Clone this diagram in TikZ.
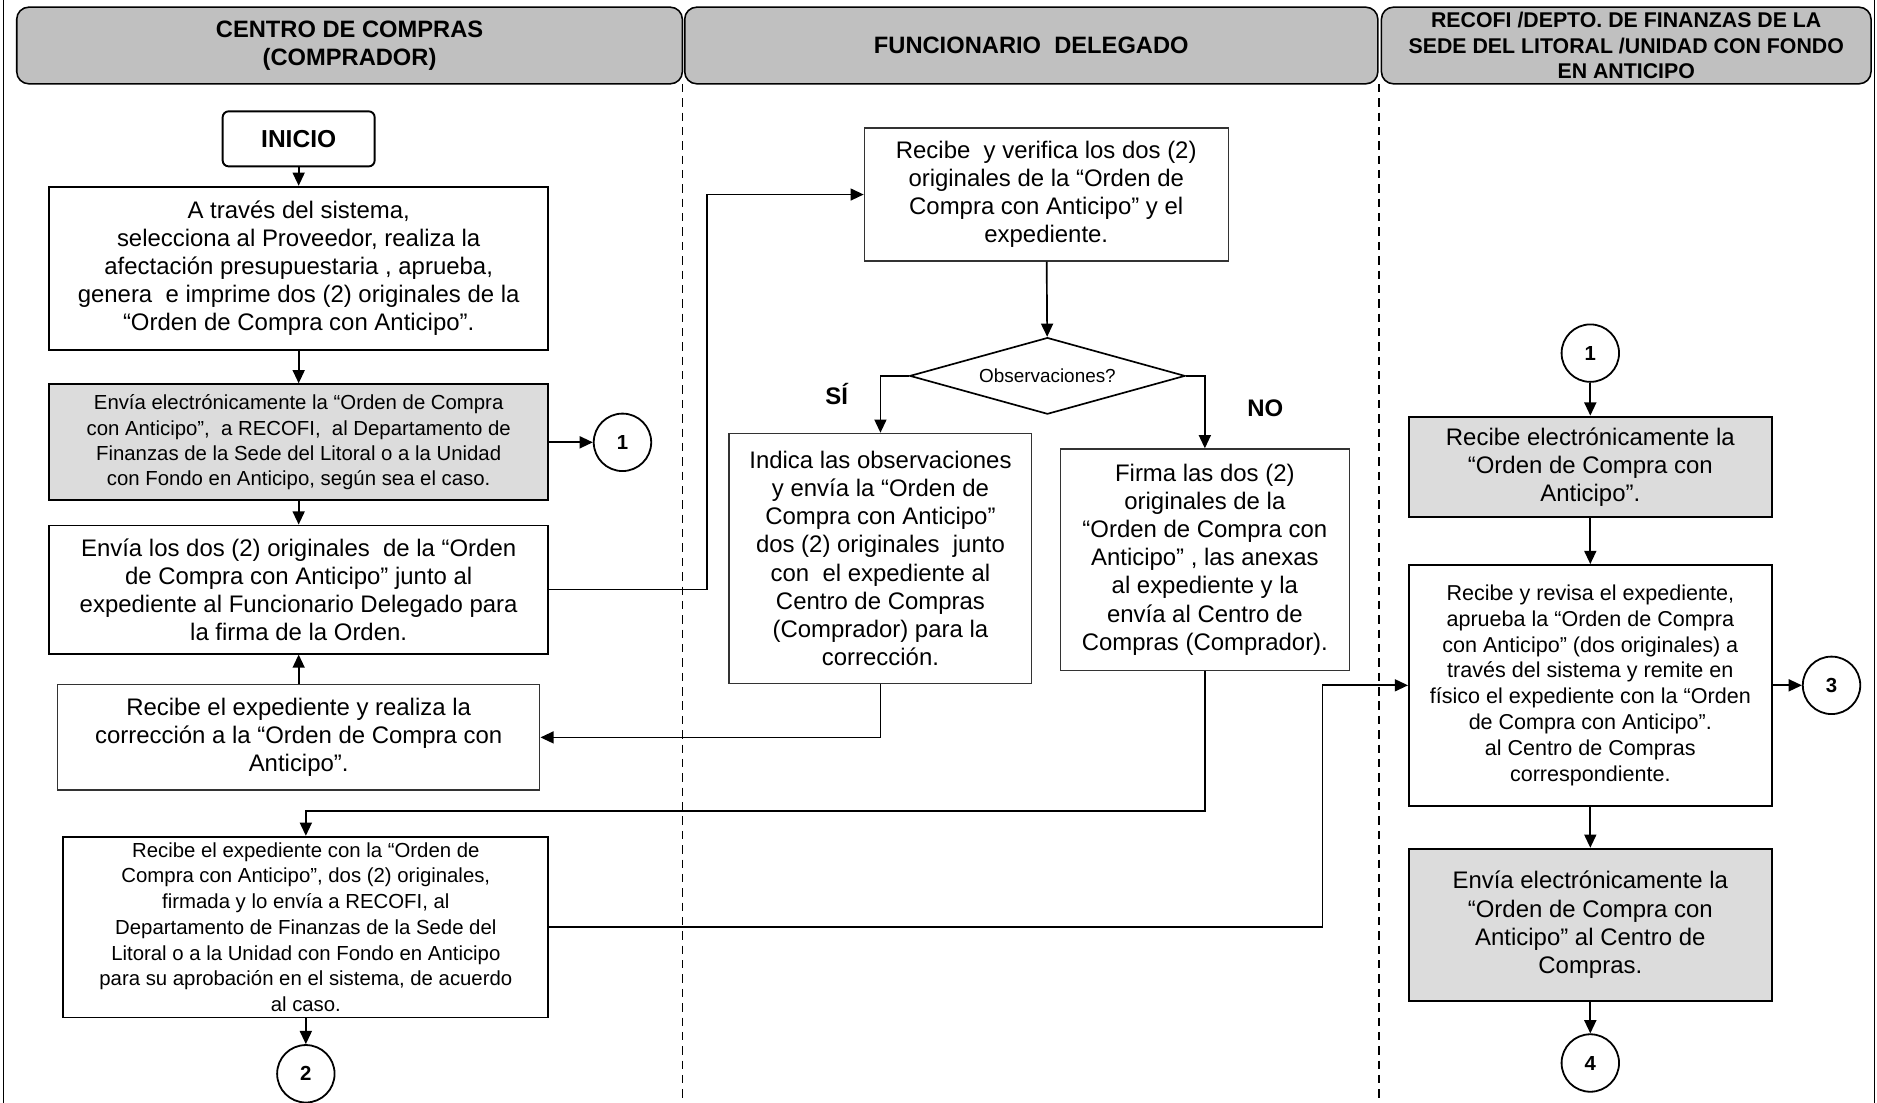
\documentclass[tikz,border=0pt]{standalone}
\usepackage{fontspec}
\setmainfont{Liberation Sans}
\usetikzlibrary{calc}
\usetikzlibrary{arrows.meta}
\usetikzlibrary{shapes.geometric}

\definecolor{lanegray}{RGB}{192,192,192}
\definecolor{stepgray}{RGB}{220,220,220}

\tikzset{
  lane/.style={draw, line width=1.3pt, rounded corners=10pt, fill=lanegray, inner sep=0pt, align=center, minimum height=64pt},
  stepbox/.style={draw, line width=1.6pt, inner sep=0pt, align=center},
  thinbox/.style={draw=black!80, line width=1pt, inner sep=0pt, align=center},
  connector/.style={draw, line width=1.5pt, circle, minimum size=48pt, inner sep=0pt, font=\fontsize{17}{20}\selectfont\bfseries},
  flow/.style={line width=1.4pt, -{Triangle[length=11pt,width=10pt]}},
  divider/.style={line width=1pt, dash pattern=on 7pt off 5pt},
  bigtxt/.style={font=\fontsize{20}{23.5}\selectfont},
  smalltxt/.style={font=\fontsize{17}{21}\selectfont}
}

\begin{document}
\begin{tikzpicture}[x=1pt,y=-1pt]

\useasboundingbox (0,0) rectangle (1568,921);

\draw[line width=1.3pt] (3,0) -- (3,921);
\draw[line width=1.3pt] (1566,0) -- (1566,921);

\node[lane, minimum width=556pt, font=\fontsize{19.8}{23}\selectfont\bfseries] (lanecomp) at (292,38) {CENTRO DE COMPRAS\\(COMPRADOR)};
\node[lane, minimum width=579pt, font=\fontsize{19.8}{23}\selectfont\bfseries] (lanefunc) at (861.5,38) {FUNCIONARIO\ \ DELEGADO};
\node[lane, minimum width=409pt, font=\fontsize{17.8}{21}\selectfont\bfseries] (lanefin) at (1358.5,38) {RECOFI /DEPTO. DE FINANZAS DE LA\\SEDE DEL LITORAL /UNIDAD CON FONDO\\EN ANTICIPO};

\draw[divider] (570,70) -- (570,921);
\draw[divider] (1152,70) -- (1152,921);

\node[stepbox, rounded corners=5pt, minimum width=127pt, minimum height=46pt, font=\fontsize{20.5}{22}\selectfont\bfseries] (inicio) at (249.5,116) {INICIO};
\node[stepbox, bigtxt, minimum width=417pt, minimum height=136pt] (genera) at (249.5,224) {A través del sistema,\\selecciona al Proveedor, realiza la\\afectación presupuestaria , aprueba,\\genera\ \ e imprime dos (2) originales de la\\“Orden de Compra con Anticipo”.};
\node[stepbox, smalltxt, fill=stepgray, minimum width=417pt, minimum height=97pt] (enviaelec) at (249.5,369.5) {Envía electrónicamente la “Orden de Compra\\con Anticipo”,\ \ a RECOFI,\ \ al Departamento de\\Finanzas de la Sede del Litoral o a la Unidad\\con Fondo en Anticipo, según sea el caso.};
\node[stepbox, bigtxt, minimum width=417pt, minimum height=107pt] (enviaorig) at (249.5,492.5) {Envía los dos (2) originales\ \ de la “Orden\\de Compra con Anticipo” junto al\\expediente al Funcionario Delegado para\\la firma de la Orden.};
\node[thinbox, bigtxt, minimum width=403pt, minimum height=88pt] (corrige) at (249.5,616) {Recibe el expediente y realiza la\\corrección a la “Orden de Compra con\\Anticipo”.};
\node[stepbox, smalltxt, font=\fontsize{17}{21.5}\selectfont, minimum width=405pt, minimum height=151pt] (recibefirm) at (255.5,774.5) {Recibe el expediente con la “Orden de\\Compra con Anticipo”, dos (2) originales,\\firmada y lo envía a RECOFI, al\\Departamento de Finanzas de la Sede del\\Litoral o a la Unidad con Fondo en Anticipo\\para su aprobación en el sistema, de acuerdo\\al caso.};

\node[connector] (uno) at (520,369.5) {1};
\node[connector] (dos) at (255.5,897) {2};

\node[thinbox, bigtxt, minimum width=304pt, minimum height=111pt] (verifica) at (874,162.5) {Recibe\ \ y verifica los dos (2)\\originales de la “Orden de\\Compra con Anticipo” y el\\expediente.};
\node[diamond, draw, line width=1.4pt, aspect=3.6, minimum width=230pt, minimum height=64pt, inner sep=0pt, font=\fontsize{15.8}{18}\selectfont] (obs) at (875,314) {Observaciones?};
\node[thinbox, bigtxt, minimum width=253pt, minimum height=209pt] (indica) at (735.5,466.5) {Indica las observaciones\\y envía la “Orden de\\Compra con Anticipo”\\dos (2) originales\ \ junto\\con\ \ el expediente al\\Centro de Compras\\(Comprador) para la\\corrección.};
\node[thinbox, bigtxt, minimum width=241pt, minimum height=185pt] (firma) at (1006.5,467.5) {Firma las dos (2)\\originales de la\\“Orden de Compra con\\Anticipo” , las anexas\\al expediente y la\\envía al Centro de\\Compras (Comprador).};
\node[font=\fontsize{20}{22}\selectfont\bfseries] (si) at (699,329) {SÍ};
\node[font=\fontsize{20}{22}\selectfont\bfseries] (no) at (1057,341) {NO};

\node[connector] (unob) at (1328.5,295) {1};
\node[stepbox, fill=stepgray, bigtxt, minimum width=303pt, minimum height=84pt] (recibeelec) at (1328.5,390) {Recibe electrónicamente la\\“Orden de Compra con\\Anticipo”.};
\node[stepbox, font=\fontsize{18}{21.6}\selectfont, minimum width=303pt, minimum height=201pt] (revisa) at (1328.5,572.5) {Recibe y revisa el expediente,\\aprueba la “Orden de Compra\\con Anticipo” (dos originales) a\\través del sistema y remite en\\físico el expediente con la “Orden\\de Compra con Anticipo”.\\al Centro de Compras\\correspondiente.};
\node[stepbox, fill=stepgray, bigtxt, minimum width=303pt, minimum height=127pt] (enviacentro) at (1328.5,772.5) {Envía electrónicamente la\\“Orden de Compra con\\Anticipo” al Centro de\\Compras.};
\node[connector] (tres) at (1530,572.5) {3};
\node[connector] (cuatro) at (1328.5,888) {4};

\draw[flow] (inicio) -- (genera);
\draw[flow] (genera) -- (enviaelec);
\draw[flow] (enviaelec) -- (uno);
\draw[flow] (enviaelec) -- (enviaorig);
\draw[flow] (corrige) -- (enviaorig);
\draw[flow] (enviaorig.east) -- ++(132,0) |- (verifica.west);
\draw[flow] (verifica) -- (obs);
\draw[flow] (obs.west) -| (indica.north);
\draw[flow] (obs.east) -| (firma.north);
\draw[flow] (indica.south) |- (corrige.east);
\draw[flow] (firma.south) -- ++(0,117) -| (recibefirm.north);
\draw[flow] (recibefirm) -- (dos);
\draw[flow] (recibefirm.east) -- ++(646,0) |- (revisa.west);
\draw[flow] (unob) -- (recibeelec);
\draw[flow] (recibeelec) -- (revisa);
\draw[flow] (revisa) -- (tres);
\draw[flow] (revisa) -- (enviacentro);
\draw[flow] (enviacentro) -- (cuatro);

\end{tikzpicture}
\end{document}
